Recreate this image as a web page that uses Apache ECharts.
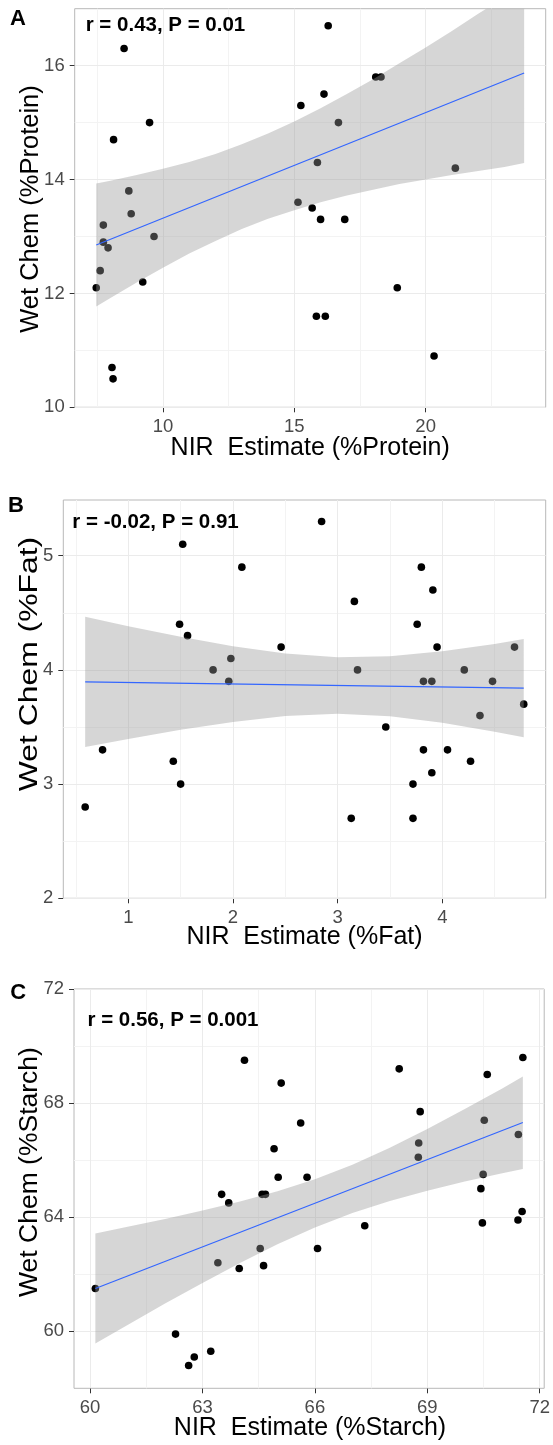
<!DOCTYPE html>
<html>
<head>
<meta charset="utf-8">
<script src="https://cdn.jsdelivr.net/npm/echarts@6/dist/echarts.min.js"></script>
<style>html,body{margin:0;padding:0;background:#fff}#c{width:553px;height:1445px}</style>
</head>
<body>
<div id="c"></div>
<script>
// ---------- Panel A : Protein ----------
const aNir = [16.29, 8.52, 18.10, 18.30, 16.13, 15.25, 9.49, 16.68, 8.12, 15.88, 21.13, 8.70, 15.14, 8.79, 15.68, 16.00, 16.92, 7.73, 7.73, 9.66, 7.91, 7.61, 7.46, 9.23, 15.84, 16.18, 18.92, 20.32, 8.06, 8.10];
const aWet = [16.7, 16.3, 15.8, 15.8, 15.5, 15.3, 15.0, 15.0, 14.7, 14.3, 14.2, 13.8, 13.6, 13.4, 13.5, 13.3, 13.3, 13.2, 12.9, 13.0, 12.8, 12.4, 12.1, 12.2, 11.6, 11.6, 12.1, 10.9, 10.7, 10.5];
const aBandX  = [7.46, 8, 9, 10, 11, 12, 13, 14, 15, 16, 17, 18, 19, 20, 21, 22, 23, 23.75];
const aBandUp = [13.93, 13.98, 14.08, 14.19, 14.31, 14.45, 14.62, 14.81, 15.02, 15.25, 15.50, 15.76, 16.04, 16.32, 16.61, 16.91, 17.20, 17.45];
const aBandLo = [11.77, 11.92, 12.19, 12.45, 12.70, 12.92, 13.13, 13.31, 13.46, 13.60, 13.72, 13.82, 13.92, 14.00, 14.08, 14.15, 14.22, 14.29];
const aFitX = [7.46, 23.75];
const aFitY = [12.85, 15.87];
const aXTicks = [10, 15, 20];
const aYTicks = [10, 12, 14, 16];
const aXMinor = [7.5, 12.5, 17.5, 22.5];
const aYMinor = [11, 13, 15];
const aStat = 'r = 0.43, P = 0.01';
const aXTitle = 'NIR  Estimate (%Protein)';
const aYTitle = 'Wet Chem (%Protein)';

// ---------- Panel B : Fat ----------
const bNir = [2.847, 1.52, 2.085, 3.80, 3.91, 3.16, 1.49, 3.76, 1.566, 2.46, 3.95, 4.69, 1.81, 1.98, 3.19, 4.21, 1.96, 3.82, 3.90, 4.48, 4.778, 4.36, 3.46, 0.754, 3.82, 4.05, 1.43, 4.27, 3.90, 1.50, 3.72, 0.588, 3.13, 3.72];
const bWet = [5.3, 5.1, 4.9, 4.9, 4.7, 4.6, 4.4, 4.4, 4.3, 4.2, 4.2, 4.2, 4.0, 4.1, 4.0, 4.0, 3.9, 3.9, 3.9, 3.9, 3.7, 3.6, 3.5, 3.3, 3.3, 3.3, 3.2, 3.2, 3.1, 3.0, 3.0, 2.8, 2.7, 2.7];
const bBandX  = [0.588, 1.0, 1.5, 2.0, 2.5, 3.0, 3.5, 4.0, 4.5, 4.778];
const bBandUp = [4.465, 4.383, 4.291, 4.208, 4.144, 4.111, 4.120, 4.163, 4.228, 4.270];
const bBandLo = [3.325, 3.396, 3.475, 3.544, 3.596, 3.616, 3.594, 3.538, 3.459, 3.410];
const bFitX = [0.588, 4.778];
const bFitY = [3.895, 3.840];
const bXTicks = [1, 2, 3, 4];
const bYTicks = [2, 3, 4, 5];
const bXMinor = [0.5, 1.5, 2.5, 3.5, 4.5];
const bYMinor = [2.5, 3.5, 4.5];
const bStat = 'r = -0.02, P = 0.91';
const bXTitle = 'NIR  Estimate (%Fat)';
const bYTitle = 'Wet Chem (%Fat)';

// ---------- Panel C : Starch ----------
const cNir = [64.12, 71.55, 68.25, 70.60, 65.10, 68.81, 70.52, 65.62, 71.43, 68.77, 64.91, 68.76, 65.02, 65.79, 70.49, 70.43, 63.51, 63.70, 64.59, 64.68, 71.53, 71.42, 70.47, 67.33, 64.54, 66.07, 63.41, 63.98, 64.63, 60.14, 62.28, 63.22, 62.78, 62.63];
const cWet = [69.5, 69.6, 69.2, 69.0, 68.7, 67.7, 67.4, 67.3, 66.9, 66.6, 66.4, 66.1, 65.4, 65.4, 65.5, 65.0, 64.8, 64.5, 64.8, 64.8, 64.2, 63.9, 63.8, 63.7, 62.9, 62.9, 62.4, 62.2, 62.3, 61.5, 59.9, 59.3, 59.1, 58.8];
const cBandX  = [60.14, 61, 62, 63, 64, 65, 66, 67, 68, 69, 70, 71, 71.55];
const cBandUp = [63.43, 63.66, 63.94, 64.23, 64.55, 64.91, 65.33, 65.84, 66.43, 67.09, 67.79, 68.51, 68.93];
const cBandLo = [59.57, 60.22, 60.97, 61.69, 62.39, 63.05, 63.64, 64.15, 64.57, 64.93, 65.25, 65.54, 65.69];
const cFitX = [60.14, 71.55];
const cFitY = [61.5, 67.32];
const cXTicks = [60, 63, 66, 69, 72];
const cYTicks = [60, 64, 68, 72];
const cXMinor = [61.5, 64.5, 67.5, 70.5];
const cYMinor = [62, 66, 70];
const cStat = 'r = 0.56, P = 0.001';
const cXTitle = 'NIR  Estimate (%Starch)';
const cYTitle = 'Wet Chem (%Starch)';

const panelLetters = ['A', 'B', 'C'];

// ---------- layout / style ----------
const FONT = '"Liberation Sans", Arial, Helvetica, sans-serif';
const panels = [
  { grid: {left: 74.7, top: 8.7, width: 471, height: 398.6}, xr: [6.64, 24.57], yr: [10, 17.0],
    nx: aNir, wy: aWet, bx: aBandX, bu: aBandUp, bl: aBandLo, fx: aFitX, fy: aFitY,
    xt: aXTicks, yt: aYTicks, xm: aXMinor, ym: aYMinor, stat: aStat, xTitle: aXTitle, yTitle: aYTitle,
    statPos: [85.7, 25.7], letterPos: [18, 19], xTitlePos: [310.2, 448.5], yTitlePos: [30.5, 209], yTitleFont: 25.5, yTitleScale: 1 },
  { grid: {left: 63.3, top: 500, width: 482.4, height: 398.3}, xr: [0.379, 4.988], yr: [2, 5.488],
    nx: bNir, wy: bWet, bx: bBandX, bu: bBandUp, bl: bBandLo, fx: bFitX, fy: bFitY,
    xt: bXTicks, yt: bYTicks, xm: bXMinor, ym: bYMinor, stat: bStat, xTitle: bXTitle, yTitle: bYTitle,
    statPos: [72.3, 522.5], letterPos: [16, 506], xTitlePos: [304.5, 937.5], yTitlePos: [30, 664], yTitleFont: 25.5, yTitleScale: 1.25 },
  { grid: {left: 74, top: 989, width: 471.7, height: 399.3}, xr: [59.57, 72.12], yr: [58, 72],
    nx: cNir, wy: cWet, bx: cBandX, bu: cBandUp, bl: cBandLo, fx: cFitX, fy: cFitY,
    xt: cXTicks, yt: cYTicks, xm: cXMinor, ym: cYMinor, stat: cStat, xTitle: cXTitle, yTitle: cYTitle,
    statPos: [87.5, 1020.5], letterPos: [18.3, 993.3], xTitlePos: [310, 1428], yTitlePos: [30, 1172], yTitleFont: 26.5, yTitleScale: 1 }
];

const option = { animation: false, grid: [], xAxis: [], yAxis: [], series: [], graphic: [] };

function axisCommon(ticks, range, i) {
  return {
    type: 'value', gridIndex: i, min: range[0], max: range[1],
    axisLine: {show: false}, splitLine: {show: false},
    axisTick: {show: true, length: 5, lineStyle: {color: '#333', width: 1}, customValues: ticks},
    axisLabel: {customValues: ticks, fontSize: 18.5, color: '#4a4a4a', margin: 10, fontFamily: FONT}
  };
}

function text(x, y, str, font, align, extra) {
  const a = align || 'center';
  const el = { type: 'text', x: x, y: y, silent: true, z: 100,
    style: { text: str, font: font, fill: '#000', align: a, verticalAlign: 'middle',
             textAlign: a, textVerticalAlign: 'middle' } };
  return Object.assign(el, extra || {});
}

panels.forEach((p, i) => {
  option.grid.push(Object.assign({show: true, borderColor: '#b8b8b8', borderWidth: 1, backgroundColor: 'transparent', z: 0}, p.grid));
  option.xAxis.push(axisCommon(p.xt, p.xr, i));
  option.yAxis.push(axisCommon(p.yt, p.yr, i));

  const gl = [];
  p.xm.forEach(v => gl.push({xAxis: v, lineStyle: {color: '#f3f3f3'}}));
  p.ym.forEach(v => gl.push({yAxis: v, lineStyle: {color: '#f3f3f3'}}));
  p.xt.forEach(v => gl.push({xAxis: v, lineStyle: {color: '#ebebeb'}}));
  p.yt.forEach(v => gl.push({yAxis: v, lineStyle: {color: '#ebebeb'}}));
  option.series.push({ type: 'line', xAxisIndex: i, yAxisIndex: i, data: [], z: 1, silent: true,
    markLine: { silent: true, z: 1, symbol: ['none', 'none'], label: {show: false}, animation: false,
      lineStyle: {type: 'solid', width: 1}, emphasis: {disabled: true}, data: gl } });

  option.series.push({ type: 'scatter', xAxisIndex: i, yAxisIndex: i, z: 5, silent: true,
    data: p.nx.map((v, k) => [v, p.wy[k]]), symbolSize: 7.6, itemStyle: {color: '#000', opacity: 1} });

  const bx = p.bx, bu = p.bu, bl = p.bl;
  option.series.push({ type: 'custom', xAxisIndex: i, yAxisIndex: i, z: 6, silent: true,
    data: bx.map((v, k) => [v, bl[k], bu[k]]), encode: {x: 0, y: [1, 2]},
    renderItem: function (params, api) {
      if (params.dataIndex !== 0) return null;
      const pts = [];
      for (let k = 0; k < bx.length; k++) pts.push(api.coord([bx[k], bu[k]]));
      for (let k = bx.length - 1; k >= 0; k--) pts.push(api.coord([bx[k], bl[k]]));
      const cs = params.coordSys;
      return { type: 'polygon', shape: {points: pts},
        style: {fill: 'rgba(153,153,153,0.4)', stroke: null},
        clipPath: {type: 'rect', shape: {x: cs.x, y: cs.y, width: cs.width, height: cs.height}} };
    } });

  option.series.push({ type: 'line', xAxisIndex: i, yAxisIndex: i, z: 7, silent: true,
    data: p.fx.map((v, k) => [v, p.fy[k]]), symbol: 'none', lineStyle: {color: '#3366FF', width: 1.2} });

  option.graphic.push(text(p.statPos[0], p.statPos[1], p.stat, 'bold 20.5px ' + FONT, 'left'));
  option.graphic.push(text(p.letterPos[0], p.letterPos[1], panelLetters[i], 'bold 22px ' + FONT));
  option.graphic.push(text(p.xTitlePos[0], p.xTitlePos[1], p.xTitle, '25px ' + FONT));
  option.graphic.push(text(p.yTitlePos[0], p.yTitlePos[1], p.yTitle, p.yTitleFont + 'px ' + FONT, 'center',
    {rotation: Math.PI / 2, scaleX: p.yTitleScale, scaleY: 1}));
});

const chart = echarts.init(document.getElementById('c'), null, {renderer: 'canvas'});
chart.setOption(option);
</script>
</body>
</html>
